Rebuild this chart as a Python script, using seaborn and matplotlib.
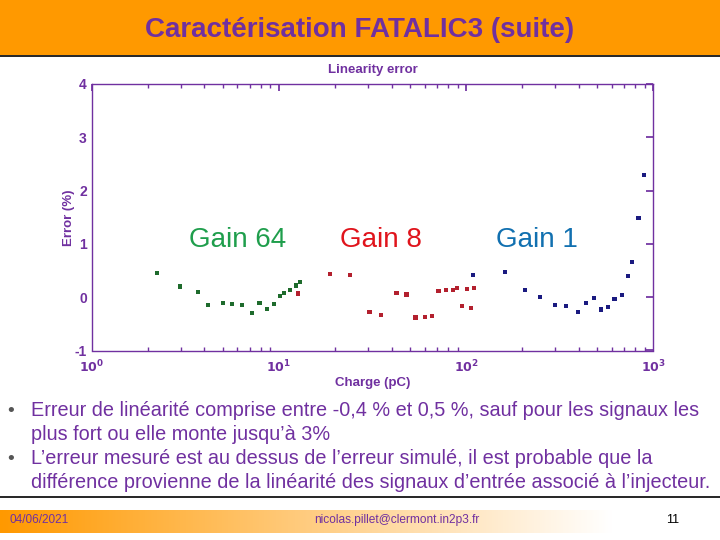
import numpy as np
import pandas as pd
import matplotlib
matplotlib.use("Agg")
import matplotlib.pyplot as plt
import seaborn as sns
from matplotlib.patches import Rectangle
from matplotlib.ticker import LogLocator, FuncFormatter

sns.set_theme(style="white")
plt.rcParams['font.family'] = ['Liberation Sans', 'DejaVu Sans']

PURPLE = "#7030A0"

# Linearity error readings (charge in pC, error in %)
g64_charge = [2.23, 2.97, 3.69, 4.20, 5.01, 5.62, 6.36, 7.19, 7.87, 8.62, 9.39,
              10.1, 10.7, 11.5, 12.3, 13.0]
g64_error = [0.45, 0.20, 0.09, -0.14, -0.11, -0.13, -0.14, -0.30, -0.11, -0.22,
             -0.13, 0.03, 0.075, 0.14, 0.22, 0.29]

g8_charge = [12.7, 18.7, 24.0, 30.5, 35.1, 42.5, 48.0, 53.7, 60.4, 65.9, 71.2,
             78.0, 85.0, 89.3, 95.3, 101, 106, 110]
g8_error = [0.07, 0.44, 0.41, -0.27, -0.34, 0.075, 0.05, -0.38, -0.375, -0.345,
            0.12, 0.14, 0.14, 0.17, -0.17, 0.16, -0.20, 0.17]

g1_charge = [109, 162, 206, 249, 299, 341, 396, 435, 482, 525, 572, 621, 677,
             729, 772, 834, 892]
g1_error = [0.41, 0.48, 0.14, 0.005, -0.14, -0.16, -0.28, -0.11, -0.02, -0.23,
            -0.18, -0.04, 0.04, 0.39, 0.66, 1.48, 2.29]

gain_names = ["Gain 64", "Gain 8", "Gain 1"]
marker_colors = ["#1e6b2c", "#b3202e", "#1a1a80"]
label_colors = ["#1f9e4c", "#e0141c", "#1170b0"]
label_pos = [(6.0, 1.07), (35.0, 1.07), (240.0, 1.07)]

df = pd.concat([
    pd.DataFrame({"Charge": g64_charge, "Error": g64_error, "Gain": "Gain 64"}),
    pd.DataFrame({"Charge": g8_charge, "Error": g8_error, "Gain": "Gain 8"}),
    pd.DataFrame({"Charge": g1_charge, "Error": g1_error, "Gain": "Gain 1"}),
])

bullets = [
    ("Erreur de linéarité comprise entre -0,4 % et 0,5 %, sauf pour les signaux les",
     "plus fort ou elle monte jusqu’à 3%"),
    ("L’erreur mesuré est au dessus de l’erreur simulé, il est probable que la",
     "différence provienne de la linéarité des signaux d’entrée associé à l’injecteur."),
]

fig = plt.figure(figsize=(7.2, 5.4), dpi=100)
fig.patch.set_facecolor("white")

# header band
fig.patches.append(Rectangle((0, 1 - 55 / 540), 1, 55 / 540, transform=fig.transFigure,
                             facecolor="#FF9900", edgecolor="none", zorder=0))
fig.add_artist(plt.Line2D([0, 1], [1 - 56 / 540] * 2, color="black", lw=1.2))
fig.text(0.5, 1 - 30 / 540, "Caractérisation FATALIC3 (suite)", ha="center", va="center",
         fontsize=20, fontweight="bold", color=PURPLE)

ax = fig.add_axes([91.7 / 720, 1 - 350.5 / 540, (653.3 - 91.7) / 720, (350.5 - 84) / 540])
sns.scatterplot(data=df, x="Charge", y="Error", hue="Gain", hue_order=gain_names,
                palette=marker_colors, marker="s", s=9, edgecolor="none",
                legend=False, ax=ax)
ax.set_xscale("log")
ax.set_xlim(1, 1000)
ax.set_ylim(-1, 4)
ax.set_yticks([-1, 0, 1, 2, 3, 4])
ax.yaxis.set_major_formatter(FuncFormatter(lambda v, p: "%d" % v))
ax.xaxis.set_major_locator(LogLocator(base=10, numticks=10))
ax.xaxis.set_minor_locator(LogLocator(base=10, subs=np.arange(2, 10), numticks=20))
ax.xaxis.set_major_formatter(FuncFormatter(
    lambda v, p: r"$\mathbf{10^{%d}}$" % round(np.log10(v))))
for s in ax.spines.values():
    s.set_color(PURPLE)
    s.set_linewidth(1.0)
ax.tick_params(which="both", direction="in", top=True, right=True, colors=PURPLE,
               labelcolor=PURPLE)
ax.tick_params(axis="y", labelsize=10)
ax.tick_params(axis="x", labelsize=9, pad=6)
ax.tick_params(which="major", length=5)
ax.tick_params(which="minor", length=3, bottom=True)
for lbl in ax.get_yticklabels():
    lbl.set_fontweight("bold")
ax.set_title("Linearity error", fontsize=9.5, fontweight="bold", color=PURPLE, pad=8)
ax.set_xlabel("Charge (pC)", fontsize=9.5, fontweight="bold", color=PURPLE, labelpad=1)
ax.set_ylabel("Error (%)", fontsize=9.5, fontweight="bold", color=PURPLE, labelpad=0)
ax.grid(False)

for name, col, (px, py) in zip(gain_names, label_colors, label_pos):
    ax.text(px, py, name, ha="center", va="center", fontsize=20, color=col)

# bullet text
y0 = 411
for first, second in bullets:
    fig.text(7 / 720, 1 - y0 / 540, "•", fontsize=14, color="#555555", va="center")
    fig.text(31 / 720, 1 - y0 / 540, first, fontsize=14.3, color=PURPLE, va="center")
    fig.text(31 / 720, 1 - (y0 + 24) / 540, second, fontsize=14.3, color=PURPLE, va="center")
    y0 += 48

fig.add_artist(plt.Line2D([0, 1], [1 - 497 / 540] * 2, color="black", lw=1.2))

# footer gradient band
fax = fig.add_axes([0, 1 - 533 / 540, 1, 23 / 540])
grad = np.linspace(0, 1, 256)
orange = np.array([1.0, 0.6, 0.0])
alpha = np.clip(1 - grad / 0.85, 0, 1)
img = orange[None, :] * alpha[:, None] + (1 - alpha[:, None])
fax.imshow(img[None, :, :], aspect="auto", extent=[0, 1, 0, 1])
fax.set_axis_off()
fig.text(10 / 720, 1 - 520 / 540, "04/06/2021", fontsize=8.5, color=PURPLE, va="center")
fig.text(397 / 720, 1 - 520 / 540, "nicolas.pillet@clermont.in2p3.fr", fontsize=8.6,
         color=PURPLE, va="center", ha="center")
fig.text(673 / 720, 1 - 520 / 540, "11", fontsize=9, color="black", va="center", ha="center")

fig.savefig("out.png", dpi=100)
